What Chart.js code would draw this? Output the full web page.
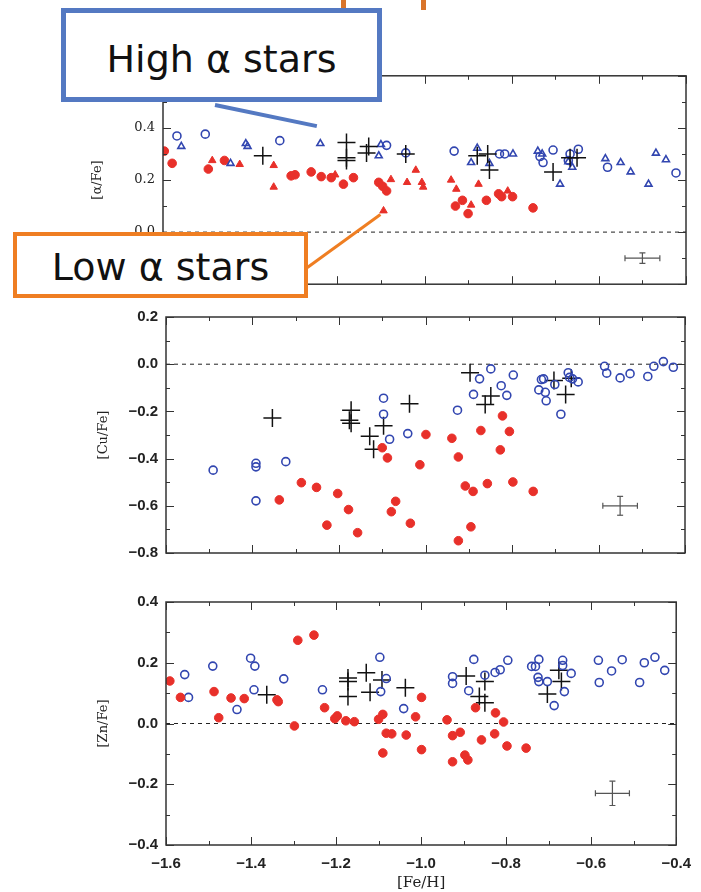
<!DOCTYPE html>
<html>
<head>
<meta charset="utf-8">
<script src="https://cdn.jsdelivr.net/npm/chart.js@4.4.1/dist/chart.umd.min.js"></script>
<style>
  body { margin: 0; background: #fff; width: 701px; height: 892px; position: relative; overflow: hidden; }
  canvas { position: absolute; left: 0; }
  .box { position: absolute; background: #fff; box-sizing: border-box; display: flex; align-items: center; justify-content: center;
         font-family: 'DejaVu Sans', sans-serif; font-size: 38px; color: #111; }
  .bar { position: absolute; transform-origin: 0 50%; }
</style>
</head>
<body>
<canvas id="alpha" width="701" height="240" style="top:60px"></canvas>
<canvas id="cu" width="701" height="270" style="top:300px"></canvas>
<canvas id="zn" width="701" height="307" style="top:585px"></canvas>

<div class="bar" style="left:341px;top:0;width:5px;height:8px;background:#d9742a"></div>
<div class="bar" style="left:421px;top:0;width:5px;height:10px;background:#d9742a"></div>
<div class="bar" style="left:215px;top:103px;width:104px;height:4px;background:#5479c2;transform:rotate(11.7deg)"></div>
<div class="box" style="left:61px;top:8px;width:321px;height:94px;border:5px solid #5479c2;padding-top:8px">High α stars</div>
<div class="bar" style="left:306px;top:267px;width:92px;height:3px;background:#ef7e22;transform:rotate(-36deg)"></div>
<div class="box" style="left:13px;top:232px;width:295px;height:66px;border:4px solid #ef7e22;padding-top:4px">Low α stars</div>

<script>
// x = [Fe/H], y = [X/Fe]
const feRange = [-1.6, -0.4];

// [alpha/Fe]
const alphaHighCircles = [[-1.568,0.369],[-1.503,0.376],[-1.332,0.351],[-1.087,0.333],[-1.043,0.304],[-0.932,0.311],[-0.828,0.30],[-0.816,0.30],
  [-0.735,0.29],[-0.728,0.267],[-0.705,0.315],[-0.67,0.275],[-0.666,0.30],[-0.647,0.318],[-0.58,0.249],[-0.423,0.227]];
const alphaHighTriangles = [[-1.558,0.329],[-1.445,0.264],[-1.41,0.34],[-1.406,0.329],[-1.239,0.34],[-1.1,0.336],[-1.105,0.293],[-0.893,0.267],
  [-0.879,0.322],[-0.851,0.264],[-0.797,0.30],[-0.74,0.311],[-0.73,0.30],[-0.689,0.184],[-0.661,0.249],[-0.67,0.27],[-0.585,0.282],
  [-0.55,0.267],[-0.527,0.231],[-0.486,0.184],[-0.469,0.303],[-0.446,0.278]];
const alphaLowCircles = [[-1.597,0.311],[-1.579,0.264],[-1.496,0.242],[-1.459,0.275],[-1.306,0.216],[-1.297,0.22],[-1.26,0.231],[-1.237,0.213],
  [-1.214,0.209],[-1.186,0.184],[-1.163,0.209],[-1.105,0.191],[-1.096,0.176],[-1.087,0.158],[-0.929,0.1],[-0.913,0.122],[-0.9,0.071],
  [-0.858,0.122],[-0.83,0.147],[-0.823,0.136],[-0.798,0.136],[-0.751,0.093]];
const alphaLowTriangles = [[-1.487,0.275],[-1.424,0.26],[-1.346,0.256],[-1.346,0.173],[-1.205,0.22],[-1.077,0.202],[-1.094,0.082],[-1.04,0.191],
  [-1.02,0.238],[-1.006,0.191],[-1.003,0.173],[-0.939,0.2],[-0.927,0.165],[-0.893,0.104],[-0.876,0.184],[-0.809,0.158]];
const alphaCrosses = [[-1.371,0.293],[-1.179,0.344],[-1.179,0.285],[-1.179,0.275],[-1.128,0.329],[-1.133,0.304],[-1.043,0.3],[-0.879,0.293],
  [-0.855,0.30],[-0.851,0.238],[-0.705,0.231],[-0.666,0.285],[-0.65,0.285]];
const alphaError = [-0.5, -0.1, 0.04, 0.02]; // x, y, dx, dy

// [Cu/Fe]
const cuHigh = [[-1.491,-0.449],[-1.392,-0.42],[-1.392,-0.435],[-1.323,-0.413],[-1.392,-0.579],[-1.097,-0.144],[-1.097,-0.212],[-1.083,-0.318],
  [-1.041,-0.294],[-0.926,-0.195],[-0.889,-0.128],[-0.875,-0.062],[-0.849,-0.02],[-0.825,-0.091],[-0.812,-0.132],[-0.797,-0.046],
  [-0.738,-0.109],[-0.732,-0.065],[-0.727,-0.062],[-0.723,-0.119],[-0.721,-0.155],[-0.701,-0.086],[-0.687,-0.212],[-0.67,-0.036],
  [-0.667,-0.056],[-0.66,-0.062],[-0.647,-0.075],[-0.586,-0.009],[-0.581,-0.038],[-0.55,-0.058],[-0.527,-0.04],[-0.486,-0.052],
  [-0.472,-0.009],[-0.45,0.011],[-0.427,-0.013]];
const cuLow = [[-1.338,-0.575],[-1.287,-0.502],[-1.252,-0.522],[-1.228,-0.682],[-1.203,-0.548],[-1.178,-0.616],[-1.157,-0.714],[-1.1,-0.354],
  [-1.088,-0.397],[-1.079,-0.625],[-1.069,-0.581],[-1.035,-0.674],[-1.013,-0.426],[-0.999,-0.298],[-0.939,-0.314],[-0.924,-0.393],
  [-0.924,-0.748],[-0.908,-0.516],[-0.895,-0.689],[-0.89,-0.539],[-0.872,-0.281],[-0.857,-0.506],[-0.827,-0.363],[-0.822,-0.219],
  [-0.806,-0.285],[-0.798,-0.499],[-0.751,-0.539]];
const cuCrosses = [[-1.354,-0.228],[-1.172,-0.195],[-1.176,-0.237],[-1.172,-0.25],[-1.129,-0.305],[-1.12,-0.36],[-1.097,-0.261],[-1.037,-0.168],
  [-0.897,-0.036],[-0.862,-0.171],[-0.849,-0.135],[-0.703,-0.069],[-0.676,-0.128],[-0.663,-0.06]];
const cuError = [-0.55, -0.6, 0.04, 0.04];

// [Zn/Fe]
const znHigh = [[-1.556,0.161],[-1.547,0.086],[-1.49,0.189],[-1.433,0.046],[-1.401,0.215],[-1.391,0.189],[-1.393,0.111],[-1.323,0.147],
  [-1.232,0.111],[-1.097,0.218],[-1.082,0.148],[-1.095,0.105],[-1.041,0.049],[-0.926,0.154],[-0.926,0.132],[-0.888,0.108],[-0.876,0.211],
  [-0.85,0.159],[-0.826,0.168],[-0.814,0.177],[-0.796,0.208],[-0.74,0.188],[-0.731,0.188],[-0.723,0.211],[-0.725,0.152],[-0.723,0.138],
  [-0.703,0.138],[-0.687,0.059],[-0.667,0.208],[-0.667,0.191],[-0.663,0.105],[-0.647,0.165],[-0.583,0.208],[-0.581,0.135],[-0.552,0.173],
  [-0.527,0.21],[-0.486,0.135],[-0.475,0.2],[-0.45,0.218],[-0.427,0.175]];
const znLow = [[-1.591,0.14],[-1.566,0.086],[-1.487,0.105],[-1.476,0.019],[-1.447,0.084],[-1.416,0.082],[-1.339,0.078],[-1.336,0.072],
  [-1.298,-0.008],[-1.29,0.274],[-1.252,0.291],[-1.227,0.052],[-1.203,0.016],[-1.197,0.025],[-1.177,0.009],[-1.157,0.006],[-1.1,0.014],
  [-1.09,0.03],[-1.09,-0.097],[-1.082,-0.032],[-1.069,-0.034],[-1.035,-0.038],[-1.013,0.022],[-0.999,0.086],[-0.999,-0.086],[-0.939,0.012],
  [-0.926,-0.04],[-0.926,-0.126],[-0.908,-0.029],[-0.897,-0.104],[-0.89,-0.12],[-0.872,0.052],[-0.858,-0.054],[-0.825,0.035],
  [-0.827,-0.034],[-0.806,0.005],[-0.798,-0.074],[-0.753,-0.081]];
const znCrosses = [[-1.363,0.095],[-1.172,0.15],[-1.172,0.138],[-1.172,0.089],[-1.129,0.167],[-1.12,0.103],[-1.092,0.143],[-1.037,0.118],
  [-0.894,0.156],[-0.863,0.089],[-0.85,0.138],[-0.85,0.068],[-0.703,0.097],[-0.676,0.175],[-0.67,0.138]];
const znError = [-0.55, -0.23, 0.04, 0.04];

const blue = '#3246b0', red = '#e8302a';
const pts = arr => arr.map(([x, y]) => ({x, y}));

// IDL-style frame with inward major/minor ticks
const frameTicks = {
  id: 'frameTicks',
  afterDatasetsDraw(chart) {
    const {ctx, chartArea: a, scales: {x, y}} = chart;
    ctx.save();
    ctx.strokeStyle = '#333';
    ctx.lineWidth = 1.5;
    ctx.strokeRect(a.left, a.top, a.right - a.left, a.bottom - a.top);
    ctx.lineWidth = 1;
    ctx.beginPath();
    for (let i = 0; x.min + i * 0.1 <= x.max + 1e-9; i++) {
      const px = Math.round(x.getPixelForValue(x.min + i * 0.1)) + 0.5, len = i % 2 ? 4 : 8;
      ctx.moveTo(px, a.bottom); ctx.lineTo(px, a.bottom - len);
      ctx.moveTo(px, a.top); ctx.lineTo(px, a.top + len);
    }
    for (let i = 0; y.min + i * 0.1 <= y.max + 1e-9; i++) {
      const py = Math.round(y.getPixelForValue(y.min + i * 0.1)) + 0.5, len = i % 2 ? 4 : 8;
      ctx.moveTo(a.left, py); ctx.lineTo(a.left + len, py);
      ctx.moveTo(a.right, py); ctx.lineTo(a.right - len, py);
    }
    ctx.stroke();
    ctx.restore();
  }
};

const fmt = v => {
  const s = (Math.abs(v) < 1e-9 ? 0 : v).toFixed(1);
  return s.replace('-', '\u2212');
};

function errorSets([x, y, dx, dy]) {
  return [
    {type: 'line', data: [{x: x - dx, y}, {x: x + dx, y}], borderColor: '#555', borderWidth: 1.2,
     pointStyle: 'line', pointRotation: 90, pointRadius: 3, pointBorderColor: '#555', pointBorderWidth: 1.2},
    {type: 'line', data: [{x, y: y - dy}, {x, y: y + dy}], borderColor: '#555', borderWidth: 1.2,
     pointStyle: 'line', pointRadius: 3, pointBorderColor: '#555', pointBorderWidth: 1.2}
  ];
}

function zeroLine() {
  return {type: 'line', data: [{x: feRange[0], y: 0}, {x: feRange[1], y: 0}], borderColor: '#222',
          borderWidth: 1, borderDash: [4, 4], pointRadius: 0};
}

const openSet = (data, style) => ({data: pts(data), pointStyle: style, pointRadius: 4, pointBorderWidth: 1.6,
  pointBorderColor: blue, pointBackgroundColor: 'rgba(0,0,0,0)'});
const filledSet = (data, style) => ({data: pts(data), pointStyle: style, pointRadius: 4.3, pointBorderWidth: 1,
  pointBorderColor: red, pointBackgroundColor: red});
const crossSet = data => ({data: pts(data), pointStyle: 'cross', pointRadius: 9, pointBorderWidth: 1.5,
  pointBorderColor: '#111'});

function panel(id, datasets, yMin, yMax, yTitle, opts) {
  new Chart(document.getElementById(id), {
    type: 'scatter',
    data: {datasets},
    plugins: [frameTicks],
    options: {
      responsive: false,
      animation: false,
      layout: {padding: opts.padding, autoPadding: false},
      plugins: {legend: {display: false}, tooltip: {enabled: false}},
      scales: {
        x: {
          type: 'linear', min: feRange[0], max: feRange[1],
          display: opts.showX,
          grid: {display: false, drawTicks: false}, border: {display: false},
          ticks: {stepSize: 0.2, padding: 10, callback: fmt, color: '#222',
                  font: {family: 'Liberation Sans', size: 15, weight: 'bold'}},
          title: {display: opts.showX, text: '[Fe/H]', color: '#222', padding: 0,
                  font: {family: 'DejaVu Serif', size: 15}},
          afterFit: s => { if (opts.showX) s.height = 47; }
        },
        y: {
          min: yMin, max: yMax,
          grid: {display: false, drawTicks: false}, border: {display: false},
          ticks: {stepSize: 0.2, padding: 8, callback: fmt, color: '#222', font: opts.tickFont},
          title: {display: true, text: yTitle, color: '#222', font: {family: 'DejaVu Serif', size: 13}},
          afterFit: s => { s.width = opts.yWidth; }
        }
      }
    }
  });
}

panel('alpha', [
  crossSet(alphaCrosses),
  openSet(alphaHighCircles, 'circle'),
  openSet(alphaHighTriangles, 'triangle'),
  filledSet(alphaLowCircles, 'circle'),
  filledSet(alphaLowTriangles, 'triangle'),
  zeroLine(),
  ...errorSets(alphaError)
], -0.2, 0.6, '[\u03b1/Fe]', {padding: {top: 12, bottom: 10, left: 86, right: 15}, yWidth: 77, showX: false,
  tickFont: {family: 'DejaVu Serif', size: 13}});

panel('cu', [
  filledSet(cuLow, 'circle'),
  openSet(cuHigh, 'circle'),
  crossSet(cuCrosses),
  zeroLine(),
  ...errorSets(cuError)
], -0.8, 0.2, '[Cu/Fe]', {padding: {top: 13, bottom: 12, left: 92, right: 16}, yWidth: 74, showX: false,
  tickFont: {family: 'Liberation Sans', size: 15, weight: 'bold'}});

panel('zn', [
  filledSet(znLow, 'circle'),
  openSet(znHigh, 'circle'),
  crossSet(znCrosses),
  zeroLine(),
  ...errorSets(znError)
], -0.4, 0.4, '[Zn/Fe]', {padding: {top: 13, bottom: 0, left: 92, right: 16}, yWidth: 74, showX: true,
  tickFont: {family: 'Liberation Sans', size: 15, weight: 'bold'}});
</script>
</body>
</html>
